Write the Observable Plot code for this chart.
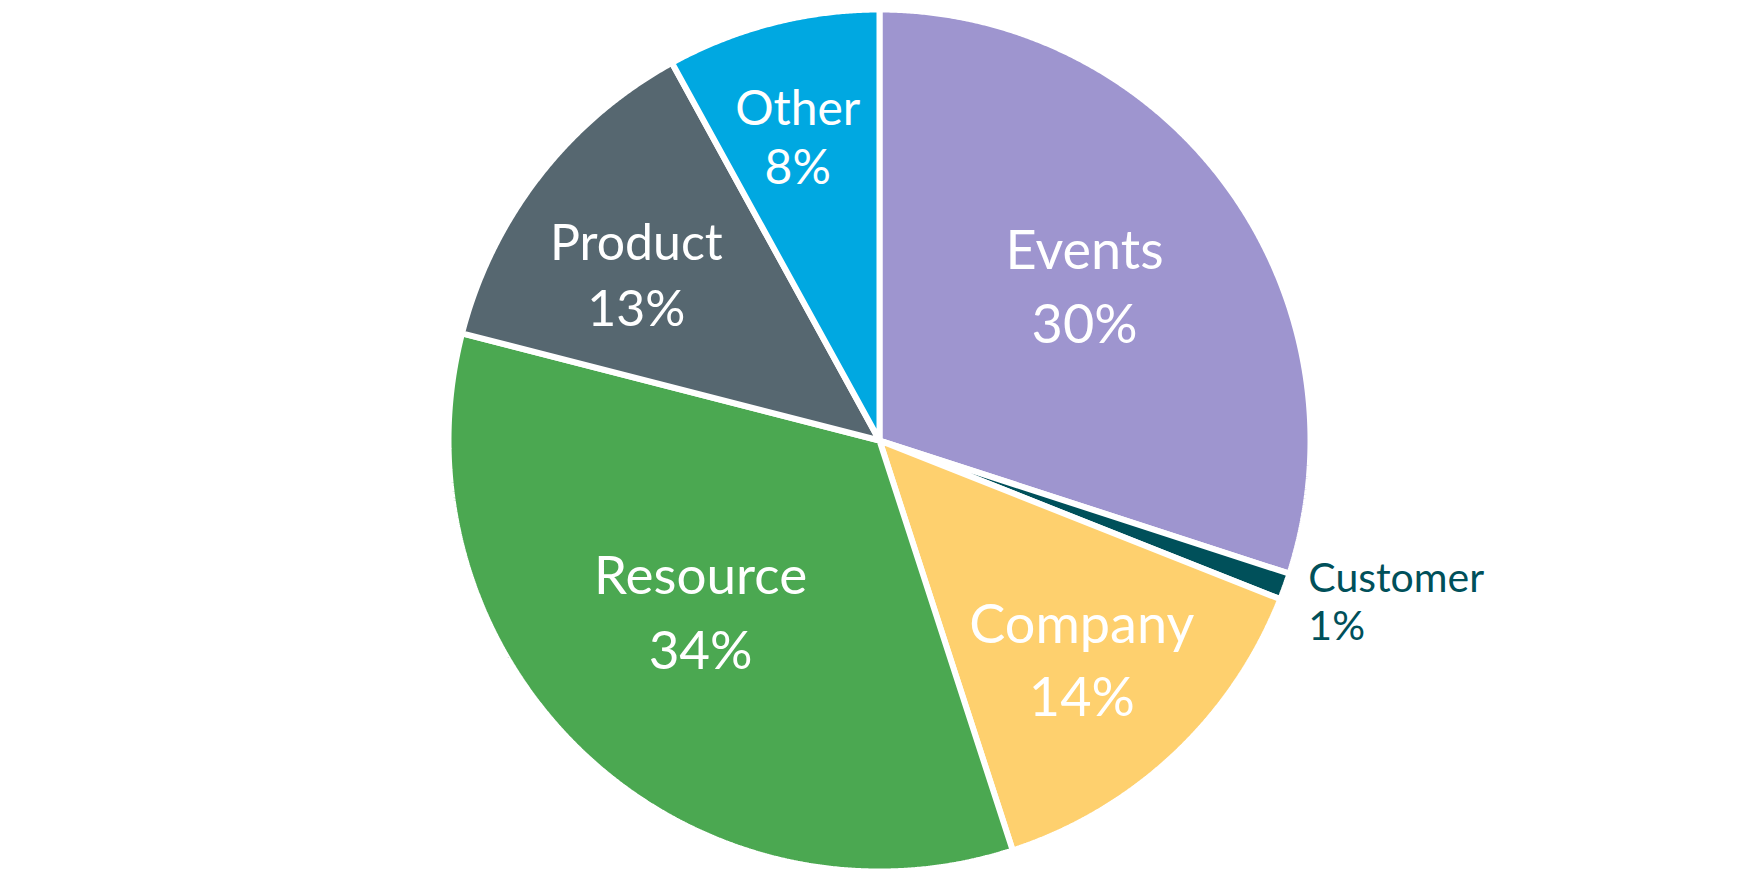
<!DOCTYPE html>
<html>
<head>
<meta charset="utf-8">
<script src="https://cdn.jsdelivr.net/npm/d3@7"></script>
<script src="https://cdn.jsdelivr.net/npm/@observablehq/plot@0.6"></script>
<style>
  html, body { margin: 0; padding: 0; background: #ffffff; }
  #chart svg { display: block; }
</style>
</head>
<body>
<div id="chart"></div>
<script>
// ---- data ----
const categories = ["Events", "Customer", "Company", "Resource", "Product", "Other"];
const shares = [30, 1, 14, 34, 13, 8];
const colors = ["#9E95CF", "#00505A", "#FED06E", "#4BA851", "#566770", "#00A8E1"];

// ---- layout (not data) ----
const W = 1760, H = 880, CX = 879, CY = 440, R = 431;
const labelRadius = [0.595, 1.063, 0.692, 0.576, 0.683, 0.728];   // fraction of radius
const labelTurn   = [-0.9, 0.8, 0.5, 2.9, -3.5, -0.7];            // degrees from slice middle
const labelSize   = [54, 41, 54, 53, 50, 48];                     // px
const labelGap    = [74, 48, 73, 75, 66, 59];                     // baseline to baseline, px
const outsideLabel = ["Customer"];
const CAP = 0.7165;                                               // cap height of Lato

// slice angles from the values (clockwise from 12 o'clock)
const arcs = d3.pie().sort(null).value(d => d)(shares);

const wedges = [];
arcs.forEach((a, i) => {
  const name = categories[i];
  wedges.push({name, x: 0, y: 0});
  const steps = Math.max(2, Math.ceil((a.endAngle - a.startAngle) / (Math.PI / 720)));
  for (let k = 0; k <= steps; k++) {
    const t = a.startAngle + (a.endAngle - a.startAngle) * k / steps;
    wedges.push({name, x: Math.sin(t), y: Math.cos(t)});
  }
});

// two text lines per slice: name and share, baselines around a block centre
const lines = [];
arcs.forEach((a, i) => {
  const t = (a.startAngle + a.endAngle) / 2 + labelTurn[i] * Math.PI / 180;
  const r = labelRadius[i];
  const x = r * Math.sin(t), y = r * Math.cos(t);
  const cap = CAP * labelSize[i], gap = labelGap[i];
  const b1 = (cap - gap) / 2, b2 = (cap + gap) / 2;   // px below block centre
  const outside = outsideLabel.includes(categories[i]);
  const base = {x, fs: labelSize[i], color: outside ? colors[i] : "#ffffff", outside};
  lines.push({...base, text: categories[i], y: y - b1 / R});
  lines.push({...base, text: `${shares[i]}%`, y: y - b2 / R});
});

const chart = Plot.plot({
  width: W,
  height: H,
  margin: 0,
  style: {fontFamily: "Lato, 'Open Sans', sans-serif", background: "#ffffff"},
  x: {domain: [-CX / R, (W - CX) / R], range: [0, W], axis: null},
  y: {domain: [-(H - CY) / R, CY / R], range: [H, 0], axis: null},
  color: {domain: categories, range: colors},
  marks: [
    Plot.line(wedges, {
      x: "x", y: "y", z: "name", fill: "name",
      stroke: "#ffffff", strokeWidth: 6, strokeLinejoin: "miter",
      curve: "linear-closed"
    }),
    Plot.text(lines.filter(d => !d.outside), {
      x: "x", y: "y", text: "text", fontSize: d => d.fs,
      fill: "#ffffff", lineAnchor: "bottom", letterSpacing: "1.5px"
    }),
    Plot.text(lines.filter(d => d.outside), {
      x: "x", y: "y", text: "text", fontSize: d => d.fs,
      fill: d => d.color, lineAnchor: "bottom", textAnchor: "start",
      letterSpacing: "1px"
    })
  ]
});

document.getElementById("chart").appendChild(chart);
</script>
</body>
</html>
